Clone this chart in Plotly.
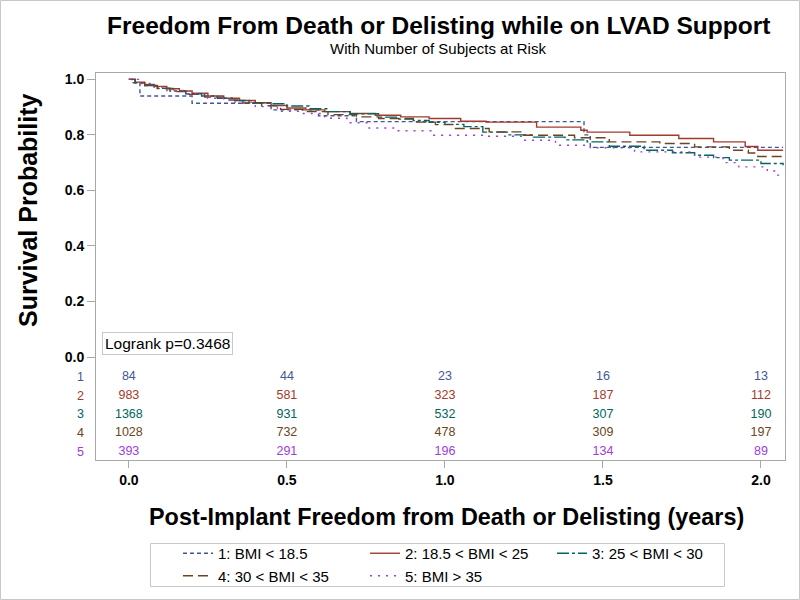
import plotly.graph_objects as go

# ---- data ----
group_names = ["1: BMI &lt; 18.5", "2: 18.5 &lt; BMI &lt; 25", "3: 25 &lt; BMI &lt; 30",
               "4: 30 &lt; BMI &lt; 35", "5: BMI &gt; 35"]
row_labels = ["1", "2", "3", "4", "5"]

g1_x = [0, 0.01, 0.035, 0.2, 0.45, 0.6, 0.72, 1.44, 1.46, 2.07]
g1_y = [1.0, 0.988, 0.94, 0.914, 0.89, 0.869, 0.848, 0.80, 0.755, 0.755]

g2_x = [0, 0.02, 0.05, 0.08, 0.12, 0.16, 0.2, 0.25, 0.3, 0.35, 0.4, 0.45, 0.5, 0.56, 0.62,
        0.7, 0.78, 0.86, 0.95, 1.05, 1.13, 1.29, 1.43, 1.45, 1.585, 1.74, 1.85, 1.95, 1.99, 2.07]
g2_y = [1.0, 0.99, 0.982, 0.975, 0.966, 0.958, 0.95, 0.94, 0.932, 0.924, 0.916, 0.906, 0.897,
        0.89, 0.884, 0.877, 0.871, 0.865, 0.859, 0.849, 0.846, 0.828, 0.817, 0.81, 0.799, 0.787,
        0.775, 0.758, 0.745, 0.745]

g3_x = [0, 0.02, 0.05, 0.09, 0.13, 0.18, 0.23, 0.28, 0.33, 0.38, 0.45, 0.5, 0.57, 0.63, 0.7,
        0.79, 0.85, 0.9, 0.95, 1.0, 1.06, 1.12, 1.2, 1.28, 1.38, 1.45, 1.52, 1.63, 1.72, 1.79,
        1.85, 1.9, 2.0, 2.07]
g3_y = [1.0, 0.988, 0.978, 0.968, 0.958, 0.948, 0.94, 0.932, 0.924, 0.916, 0.912, 0.904, 0.894,
        0.884, 0.876, 0.864, 0.857, 0.852, 0.845, 0.838, 0.83, 0.81, 0.8, 0.792, 0.782, 0.775,
        0.759, 0.745, 0.736, 0.727, 0.718, 0.709, 0.697, 0.691]

g4_x = [0, 0.02, 0.05, 0.09, 0.14, 0.19, 0.24, 0.3, 0.36, 0.42, 0.48, 0.55, 0.63, 0.72, 0.79,
        0.9, 0.97, 1.03, 1.14, 1.24, 1.41, 1.52, 1.68, 1.79, 1.9, 1.96, 1.99, 2.07]
g4_y = [1.0, 0.988, 0.978, 0.967, 0.956, 0.946, 0.936, 0.926, 0.915, 0.905, 0.892, 0.884, 0.873,
        0.865, 0.859, 0.846, 0.837, 0.823, 0.811, 0.799, 0.79, 0.775, 0.769, 0.757, 0.745, 0.735,
        0.722, 0.711]

g5_x = [0, 0.03, 0.07, 0.12, 0.18, 0.25, 0.32, 0.4, 0.47, 0.54, 0.62, 0.69, 0.76, 0.85, 0.96,
        1.13, 1.25, 1.35, 1.46, 1.6, 1.79, 1.88, 1.93, 2.02, 2.05, 2.07]
g5_y = [1.0, 0.985, 0.972, 0.96, 0.948, 0.932, 0.918, 0.902, 0.885, 0.877, 0.86, 0.844, 0.825,
        0.815, 0.799, 0.795, 0.781, 0.763, 0.754, 0.739, 0.72, 0.7, 0.685, 0.67, 0.655, 0.655]

risk_times = [0.0, 0.5, 1.0, 1.5, 2.0]
risk_1 = [84, 44, 23, 16, 13]
risk_2 = [983, 581, 323, 187, 112]
risk_3 = [1368, 931, 532, 307, 190]
risk_4 = [1028, 732, 478, 309, 197]
risk_5 = [393, 291, 196, 134, 89]
risk_rows_y = [-0.073, -0.140, -0.207, -0.274, -0.342]

x_ticks = [0.0, 0.5, 1.0, 1.5, 2.0]
y_ticks = [0.0, 0.2, 0.4, 0.6, 0.8, 1.0]
title_text = "Freedom From Death or Delisting while on LVAD Support"
subtitle_text = "With Number of Subjects at Risk"
x_title = "Post-Implant Freedom from Death or Delisting (years)"
y_title = "Survival Probability"
logrank_text = "Logrank p=0.3468"

# ---- styles ----
colors = ["#445694", "#A23A2E", "#01665E", "#6B4420", "#9D3CDB"]
dashes = ["4px,3px", "solid", "12px,3px,3px,3px", "10px,5px", "2px,6px"]
FONT = "Liberation Sans, Arial, sans-serif"

L, R, T, B = 96, 15, 73, 140
PW, PH = 800 - L - R, 600 - T - B


def px_x(p):
    return (p - L) / PW


def px_y(p):
    return (600 - B - p) / PH


fig = go.Figure()
curves = [(g1_x, g1_y), (g2_x, g2_y), (g3_x, g3_y), (g4_x, g4_y), (g5_x, g5_y)]
for i, (cx, cy) in enumerate(curves):
    fig.add_trace(go.Scatter(
        x=cx, y=cy, mode="lines", line_shape="hv", name=group_names[i],
        line=dict(color=colors[i], width=1.4, dash=dashes[i]),
    ))

risks = [risk_1, risk_2, risk_3, risk_4, risk_5]
for i, r in enumerate(risks):
    fig.add_trace(go.Scatter(
        x=risk_times, y=[risk_rows_y[i]] * len(risk_times), mode="text",
        text=[str(v) for v in r], textposition="middle center",
        textfont=dict(family=FONT, size=12.5, color=colors[i]),
        showlegend=False, cliponaxis=False, hoverinfo="skip",
    ))
    fig.add_annotation(x=px_x(75), y=risk_rows_y[i], xref="paper", yref="y", text=row_labels[i],
                       showarrow=False, font=dict(family=FONT, size=12.5, color=colors[i]))

fig.add_annotation(x=px_x(102), y=0.047, xref="paper", yref="y", text=logrank_text, showarrow=False,
                   xanchor="left", yanchor="middle", bgcolor="white", bordercolor="#c8c8c8",
                   borderwidth=1, borderpad=2, font=dict(family=FONT, size=15.5, color="#000"))

# titles
fig.add_annotation(x=px_x(438), y=px_y(25), xref="paper", yref="paper", text=title_text,
                   showarrow=False, xanchor="center", yanchor="middle",
                   font=dict(family=FONT, size=24.5, weight="bold", color="#000"))
fig.add_annotation(x=px_x(438), y=px_y(48), xref="paper", yref="paper", text=subtitle_text,
                   showarrow=False, xanchor="center", yanchor="middle",
                   font=dict(family=FONT, size=15, color="#000"))
fig.add_annotation(x=px_x(446), y=px_y(517), xref="paper", yref="paper", text=x_title,
                   showarrow=False, xanchor="center", yanchor="middle",
                   font=dict(family=FONT, size=23.4, weight="bold", color="#000"))
fig.add_annotation(x=px_x(28), y=px_y(210), xref="paper", yref="paper", text=y_title,
                   showarrow=False, xanchor="center", yanchor="middle", textangle=-90,
                   font=dict(family=FONT, size=25, weight="bold", color="#000"))

# outer frame and legend frame
fig.add_shape(type="rect", xref="paper", yref="paper",
              x0=px_x(0.5), x1=px_x(799.5), y0=px_y(599.5), y1=px_y(0.5),
              line=dict(color="#c8c8c8", width=1), layer="below")
fig.add_shape(type="rect", xref="paper", yref="paper",
              x0=px_x(150.5), x1=px_x(724.5), y0=px_y(586.5), y1=px_y(543.5),
              line=dict(color="#c8c8c8", width=1), layer="below")

fig.update_layout(
    width=800, height=600,
    margin=dict(l=L, r=R, t=T, b=B, autoexpand=False),
    paper_bgcolor="white", plot_bgcolor="white",
    font=dict(family=FONT, color="#000"),
    xaxis=dict(range=[-0.104, 2.076], tickvals=x_ticks, tickformat=".1f", automargin=False,
               showgrid=False, zeroline=False, showline=True, mirror=True,
               linecolor="#a8a8a8", linewidth=1, ticks="outside", ticklen=7, tickcolor="#a8a8a8",
               tickfont=dict(family=FONT, size=14, weight="bold")),
    yaxis=dict(range=[-0.371, 1.023], tickvals=y_ticks, tickformat=".1f", automargin=False,
               showgrid=False, zeroline=False, showline=True, mirror=True,
               linecolor="#a8a8a8", linewidth=1, ticks="outside", ticklen=8, tickcolor="#a8a8a8",
               tickfont=dict(family=FONT, size=14, weight="bold")),
    legend=dict(orientation="h", x=px_x(178), xanchor="left", y=px_y(537), yanchor="top",
                bgcolor="rgba(0,0,0,0)", borderwidth=0,
                font=dict(family=FONT, size=15), entrywidth=142, entrywidthmode="pixels",
                traceorder="normal"),
    showlegend=True,
)

fig.write_html("out.html", config={"displayModeBar": False},
               post_script="document.body.style.margin='0';document.body.style.padding='0';"
                           "window.dispatchEvent(new Event('resize'));")
